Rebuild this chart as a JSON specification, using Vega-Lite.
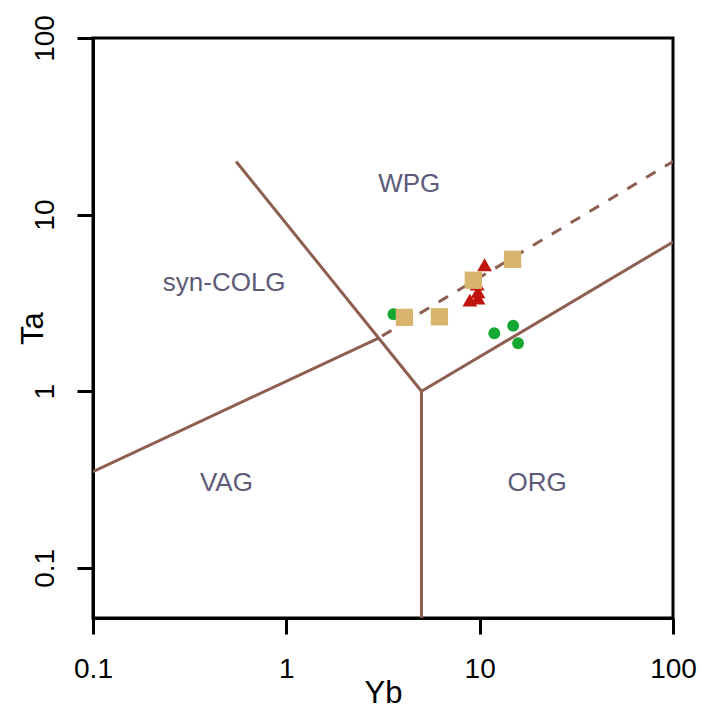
{
  "$schema": "https://vega.github.io/schema/vega-lite/v6.json",
  "width": 580,
  "height": 580,
  "autosize": {"type": "none"},
  "padding": {"left": 93, "top": 38, "right": 29, "bottom": 91},
  "background": "white",
  "config": {
    "font": "Liberation Sans",
    "view": {"stroke": "black", "strokeWidth": 3},
    "axis": {
      "grid": false,
      "domainColor": "black",
      "domainWidth": 3,
      "tickColor": "black",
      "tickWidth": 3,
      "tickSize": 16,
      "labelFont": "Liberation Sans",
      "labelFontSize": 28,
      "labelColor": "black",
      "labelFlush": false,
      "labelOverlap": false,
      "titleFont": "Liberation Sans",
      "titleFontSize": 31,
      "titleFontWeight": "normal",
      "titleColor": "black"
    }
  },
  "datasets": {
    "bounds": [
      {"seg": "a", "i": 1, "Yb": 0.55, "Ta": 20},
      {"seg": "a", "i": 2, "Yb": 3, "Ta": 2},
      {"seg": "a", "i": 3, "Yb": 5, "Ta": 1},
      {"seg": "b", "i": 1, "Yb": 0.1, "Ta": 0.35},
      {"seg": "b", "i": 2, "Yb": 3, "Ta": 2},
      {"seg": "c", "i": 1, "Yb": 5, "Ta": 1},
      {"seg": "c", "i": 2, "Yb": 100, "Ta": 7},
      {"seg": "d", "i": 1, "Yb": 5, "Ta": 1},
      {"seg": "d", "i": 2, "Yb": 5, "Ta": 0.04}
    ],
    "dashed": [
      {"seg": "e", "i": 1, "Yb": 3, "Ta": 2},
      {"seg": "e", "i": 2, "Yb": 100, "Ta": 20}
    ],
    "samples": [
      {"group": "G", "Yb": 3.58, "Ta": 2.73},
      {"group": "G", "Yb": 11.9, "Ta": 2.13},
      {"group": "G", "Yb": 14.9, "Ta": 2.35},
      {"group": "G", "Yb": 15.8, "Ta": 1.87},
      {"group": "R", "Yb": 10.6, "Ta": 5.2},
      {"group": "R", "Yb": 9.7, "Ta": 4.04},
      {"group": "R", "Yb": 9.8, "Ta": 3.65},
      {"group": "R", "Yb": 9.8, "Ta": 3.37},
      {"group": "R", "Yb": 8.9, "Ta": 3.28},
      {"group": "T", "Yb": 4.08, "Ta": 2.62},
      {"group": "T", "Yb": 6.19, "Ta": 2.64},
      {"group": "T", "Yb": 9.27, "Ta": 4.25},
      {"group": "T", "Yb": 14.8, "Ta": 5.58}
    ],
    "labels": [
      {"name": "WPG", "Yb": 4.32, "Ta": 14.9},
      {"name": "syn-COLG", "Yb": 0.477, "Ta": 4.1},
      {"name": "VAG", "Yb": 0.49, "Ta": 0.302},
      {"name": "ORG", "Yb": 19.8, "Ta": 0.302}
    ]
  },
  "encoding": {
    "x": {
      "field": "Yb",
      "type": "quantitative",
      "scale": {"type": "log", "domain": [0.1, 100], "nice": false},
      "axis": {
        "title": "Yb",
        "values": [0.1, 1, 10, 100],
        "format": "~g",
        "labelBaseline": "alphabetic",
        "labelPadding": 43,
        "titleBaseline": "alphabetic",
        "titleY": 84
      }
    },
    "y": {
      "field": "Ta",
      "type": "quantitative",
      "scale": {"type": "log", "domain": [0.052, 100], "nice": false},
      "axis": {
        "title": "Ta",
        "values": [0.1, 1, 10, 100],
        "format": "~g",
        "labelAngle": 270,
        "labelAlign": "center",
        "labelBaseline": "alphabetic",
        "labelPadding": 24,
        "titleAngle": 270,
        "titleAlign": "center",
        "titleBaseline": "alphabetic",
        "titleX": -51,
        "titleY": 290
      }
    }
  },
  "layer": [
    {
      "data": {"name": "bounds"},
      "mark": {"type": "line", "color": "#8e5f50", "strokeWidth": 3, "clip": true},
      "encoding": {"detail": {"field": "seg"}, "order": {"field": "i"}}
    },
    {
      "data": {"name": "dashed"},
      "mark": {"type": "line", "color": "#8e5f50", "strokeWidth": 3, "strokeDash": [11, 11], "strokeDashOffset": -4, "clip": true},
      "encoding": {"detail": {"field": "seg"}, "order": {"field": "i"}}
    },
    {
      "data": {"name": "labels"},
      "mark": {"type": "text", "font": "Liberation Sans", "fontSize": 26, "color": "#5e5b78", "align": "center", "baseline": "middle"},
      "encoding": {"text": {"field": "name"}}
    },
    {
      "data": {"name": "samples"},
      "mark": {"type": "point", "filled": true, "opacity": 1, "strokeWidth": 0},
      "encoding": {
        "shape": {
          "field": "group",
          "scale": {"domain": ["G", "R", "T"], "range": ["circle", "triangle-up", "square"]},
          "legend": null
        },
        "color": {
          "field": "group",
          "scale": {"domain": ["G", "R", "T"], "range": ["#14a832", "#c1140c", "#d8b56e"]},
          "legend": null
        },
        "size": {
          "field": "group",
          "scale": {"domain": ["G", "R", "T"], "range": [140, 300, 165]},
          "legend": null
        }
      }
    }
  ]
}
